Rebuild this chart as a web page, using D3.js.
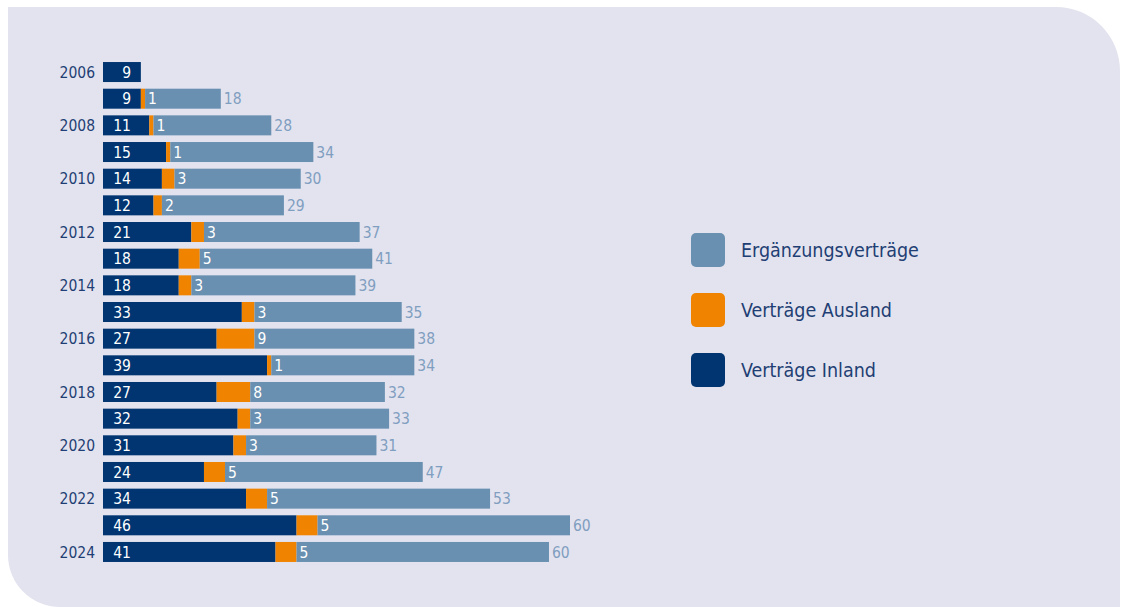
<!DOCTYPE html>
<html>
<head>
<meta charset="utf-8">
<script src="https://cdn.jsdelivr.net/npm/d3@7"></script>
<style>
  body { margin: 0; background: #fff; }
  svg text { font-family: "DejaVu Sans Condensed", "Roboto", sans-serif; }
</style>
</head>
<body>
<div id="container"></div>
<script>
const years = [2006,2007,2008,2009,2010,2011,2012,2013,2014,2015,2016,2017,2018,2019,2020,2021,2022,2023,2024];
const inland = [9,9,11,15,14,12,21,18,18,33,27,39,27,32,31,24,34,46,41];
const ausland = [0,1,1,1,3,2,3,5,3,3,9,1,8,3,3,5,5,5,5];
const ergaenzung = [0,18,28,34,30,29,37,41,39,35,38,34,32,33,31,47,53,60,60];
const seriesNames = ["Ergänzungsverträge","Verträge Ausland","Verträge Inland"];

const w = 1128, h = 607;
const colInland = "#003571",
      colAusland = "#f08300",
      colErg = "#6990b1",
      colTotal = "#809ebf",
      colText = "#1f3f74";

const svg = d3.select("#container")
    .append("svg")
    .attr("width", w)
    .attr("height", h);

// background panel, sharp top-left, rounded top-right and bottom-left
const bx0 = 8, by0 = 7, bx1 = 1120, by1 = 607, rTR = 64, rBL = 52;
svg.append("path")
    .attr("d", "M"+bx0+","+by0+" L"+(bx1-rTR)+","+by0+" A"+rTR+","+rTR+" 0 0 1 "+bx1+","+(by0+rTR)
        +" L"+bx1+","+(by1+20)+" L"+(bx0+rBL)+","+(by1+20)
        +" L"+(bx0+rBL)+","+by1+" A"+rBL+","+rBL+" 0 0 1 "+bx0+","+(by1-rBL)+" Z")
    .attr("fill", "#e3e3ef");

const x = d3.scaleLinear()
    .domain([0, 111])
    .range([103, 570]);

const y = d3.scaleBand()
    .domain(years)
    .range([58.7, 565.3])
    .paddingInner(0.25)
    .paddingOuter(0.125);

const rows = years.map((yr, i) => ({year: yr, a: inland[i], b: ausland[i], c: ergaenzung[i]}));

const g = svg.append("g");

// year labels every other year
g.selectAll("text.year")
    .data(rows.filter((d, i) => i % 2 === 0))
    .enter()
    .append("text")
    .attr("class", "year")
    .attr("x", 95)
    .attr("y", d => y(d.year) + y.bandwidth()/2)
    .attr("dy", "0.36em")
    .attr("text-anchor", "end")
    .attr("fill", colText)
    .attr("font-size", 15.5)
    .text(d => d.year);

const row = g.selectAll("g.row")
    .data(rows)
    .enter()
    .append("g")
    .attr("class", "row")
    .attr("transform", d => "translate(0," + y(d.year) + ")");

row.append("rect")
    .attr("x", d => x(0))
    .attr("width", d => x(d.a) - x(0))
    .attr("height", y.bandwidth())
    .attr("fill", colInland);

row.filter(d => d.b > 0).append("rect")
    .attr("x", d => x(d.a))
    .attr("width", d => x(d.a + d.b) - x(d.a))
    .attr("height", y.bandwidth())
    .attr("fill", colAusland);

row.filter(d => d.c > 0).append("rect")
    .attr("x", d => x(d.a + d.b))
    .attr("width", d => x(d.a + d.b + d.c) - x(d.a + d.b))
    .attr("height", y.bandwidth())
    .attr("fill", colErg);

const mid = y.bandwidth()/2;

row.append("text")
    .attr("x", d => x(0) + 28)
    .attr("y", mid)
    .attr("dy", "0.36em")
    .attr("text-anchor", "end")
    .attr("fill", "#fff")
    .attr("font-size", 15.5)
    .text(d => d.a);

row.filter(d => d.b > 0).append("text")
    .attr("x", d => x(d.a + d.b) + 3)
    .attr("y", mid)
    .attr("dy", "0.36em")
    .attr("fill", "#fff")
    .attr("font-size", 15.5)
    .text(d => d.b);

row.filter(d => d.c > 0).append("text")
    .attr("x", d => x(d.a + d.b + d.c) + 3)
    .attr("y", mid)
    .attr("dy", "0.36em")
    .attr("fill", colTotal)
    .attr("font-size", 15.5)
    .text(d => d.c);

// legend
const legend = svg.append("g")
    .attr("transform", "translate(691,233)");

legend.selectAll("rect")
    .data(seriesNames)
    .enter()
    .append("rect")
    .attr("x", 0)
    .attr("y", (d, i) => i * 60)
    .attr("width", 34)
    .attr("height", 34)
    .attr("rx", 5)
    .attr("fill", (d, i) => [colErg, colAusland, colInland][i]);

legend.selectAll("text")
    .data(seriesNames)
    .enter()
    .append("text")
    .attr("x", 50)
    .attr("y", (d, i) => i * 60 + 17)
    .attr("dy", "0.36em")
    .attr("fill", colText)
    .attr("font-size", 19.5)
    .text(d => d);
</script>
</body>
</html>
